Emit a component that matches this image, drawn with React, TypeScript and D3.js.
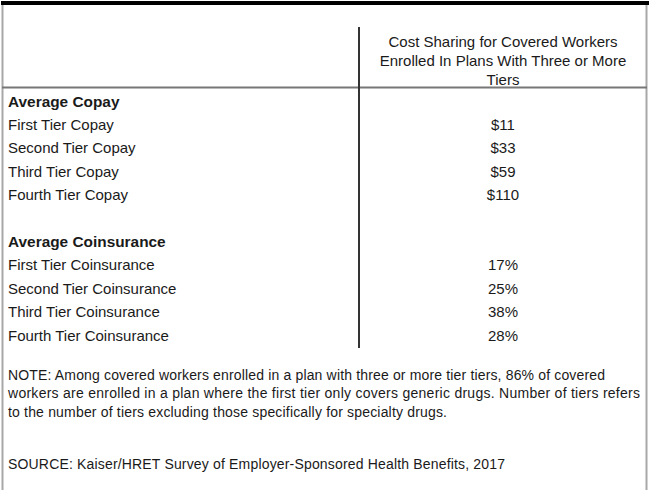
import * as d3 from 'd3';

const headerLines = ['Cost Sharing for Covered Workers', 'Enrolled In Plans With Three or More', 'Tiers'];

const copayTitle = 'Average Copay';
const copayLabels = ['First Tier Copay', 'Second Tier Copay', 'Third Tier Copay', 'Fourth Tier Copay'];
const copayValues = ['$11', '$33', '$59', '$110'];

const coinsTitle = 'Average Coinsurance';
const coinsLabels = ['First Tier Coinsurance', 'Second Tier Coinsurance', 'Third Tier Coinsurance', 'Fourth Tier Coinsurance'];
const coinsValues = ['17%', '25%', '38%', '28%'];

const noteLines = [
  'NOTE: Among covered workers enrolled in a plan with three or more tier tiers, 86% of covered',
  'workers are enrolled in a plan where the first tier only covers generic drugs. Number of tiers refers',
  'to the number of tiers excluding those specifically for specialty drugs.',
];
const sourceLine = 'SOURCE: Kaiser/HRET Survey of Employer-Sponsored Health Benefits, 2017';

interface Row {
  label: string;
  value: string;
  bold: boolean;
}

export default function App() {
  const width = 650;
  const height = 490;
  const divX = 359;
  const valueX = (divX + 647) / 2;
  const font = '"Liberation Sans", Arial, sans-serif';
  const ink = '#1a1a1a';

  const rows: Row[] = [
    { label: copayTitle, value: '', bold: true },
    ...copayLabels.map((l, i) => ({ label: l, value: copayValues[i], bold: false })),
    { label: '', value: '', bold: false },
    { label: coinsTitle, value: '', bold: true },
    ...coinsLabels.map((l, i) => ({ label: l, value: coinsValues[i], bold: false })),
  ];

  // row index -> vertical centre
  const y = d3.scaleLinear().domain([0, rows.length - 1]).range([101, 335]);
  const headY = d3.scaleLinear().domain([0, headerLines.length - 1]).range([41, 79]);
  const noteY = d3.scaleLinear().domain([0, noteLines.length - 1]).range([374.5, 412]);
  const noteWidths = [597, 632, 439];

  return (
    <div style={{ position: 'absolute', left: 0, top: 0 }}>
      <svg width={width} height={height} style={{ display: 'block', background: '#fff' }} fontFamily={font}>
        <rect x={0} y={0} width={width} height={height} fill="#fff" />
        <rect x={1} y={1} width={648} height={4} fill="#000" />
        <line x1={2.5} x2={2.5} y1={5} y2={490} stroke="#a8a8a8" strokeWidth={2} />
        <line x1={646.5} x2={646.5} y1={5} y2={490} stroke="#a8a8a8" strokeWidth={2} />
        <line x1={2} x2={647} y1={87.5} y2={87.5} stroke="#777" strokeWidth={2} />
        <line x1={divX} x2={divX} y1={27} y2={348} stroke="#333" strokeWidth={2} />

        {headerLines.map((t, i) => (
          <text key={t} x={valueX} y={headY(i) + 5.5} textAnchor="middle" fontSize={15} fill={ink}>
            {t}
          </text>
        ))}

        {rows.map((r, i) => (
          <g key={i}>
            {r.label && (
              <text x={8} y={y(i) + 5.5} fontSize={r.bold ? 15.4 : 15} fontWeight={r.bold ? 'bold' : 'normal'} fill={ink}>
                {r.label}
              </text>
            )}
            {r.value && (
              <text x={valueX} y={y(i) + 5.5} textAnchor="middle" fontSize={15} fill={ink}>
                {r.value}
              </text>
            )}
          </g>
        ))}

        {noteLines.map((t, i) => (
          <text
            key={i}
            x={8}
            y={noteY(i) + 5}
            fontSize={14}
            fill={ink}
            textLength={noteWidths[i]}
            lengthAdjust="spacing"
          >
            {t}
          </text>
        ))}
        <text x={8} y={469} fontSize={14} fill={ink} textLength={497} lengthAdjust="spacing">
          {sourceLine}
        </text>
      </svg>
    </div>
  );
}
